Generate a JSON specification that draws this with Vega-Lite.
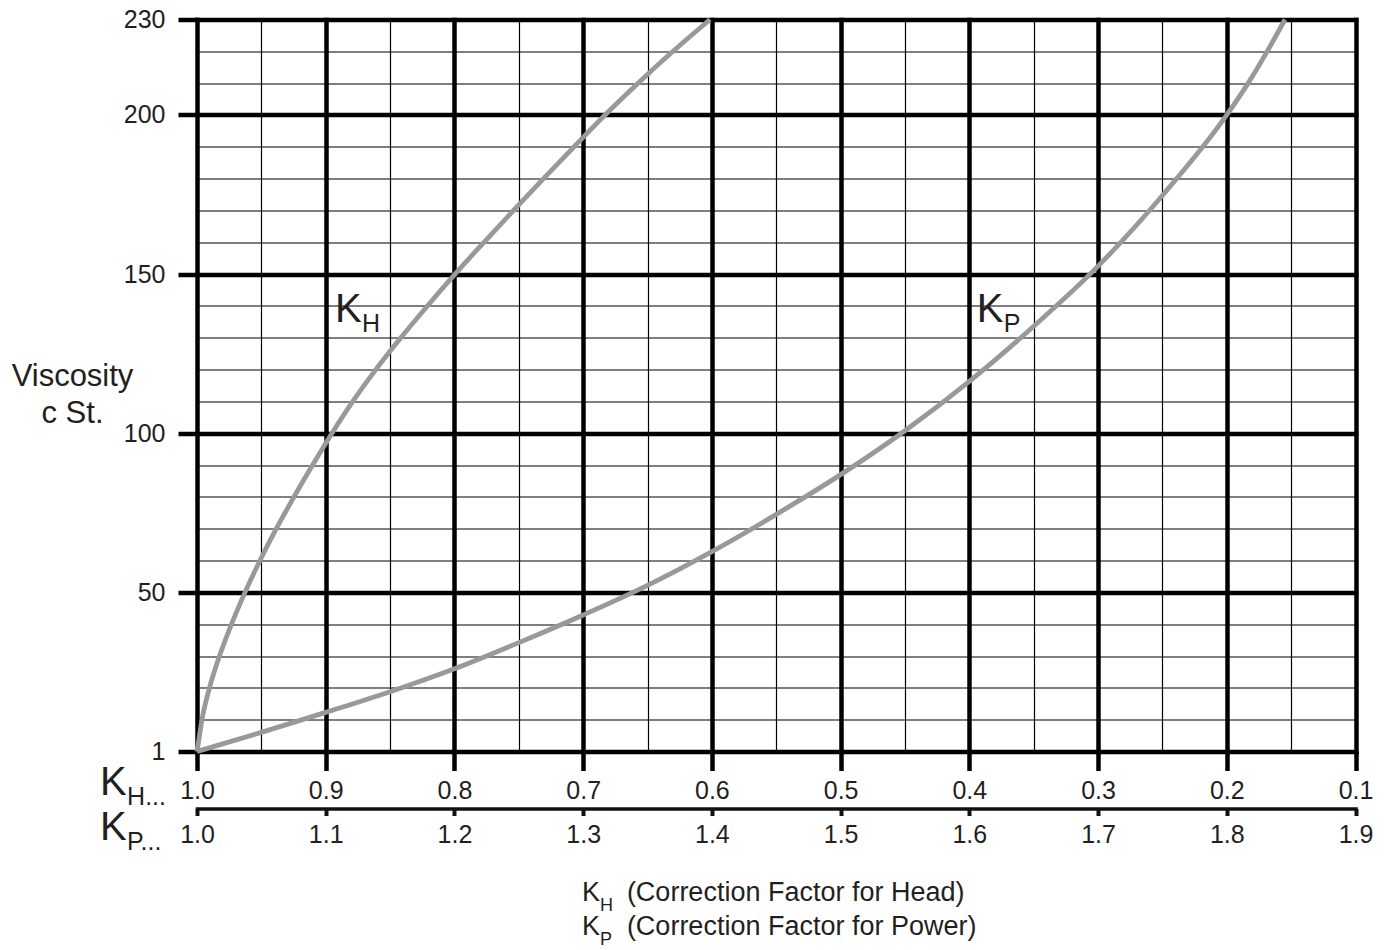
{
  "$schema": "https://vega.github.io/schema/vega-lite/v6.json",
  "width": 1158.5,
  "height": 732,
  "autosize": {"type": "none"},
  "padding": {"left": 197, "top": 19.5, "right": 35.5, "bottom": 198.5},
  "background": "white",
  "config": {"font": "Liberation Sans", "view": {"stroke": null}},
  "datasets": {
    "khCurve": [
      {"kh": 1.0, "v": 0}, {"kh": 0.99883, "v": 3}, {"kh": 0.99612, "v": 10}, {"kh": 0.99029, "v": 20},
      {"kh": 0.98252, "v": 30}, {"kh": 0.9732, "v": 40}, {"kh": 0.96271, "v": 50}, {"kh": 0.95106, "v": 60},
      {"kh": 0.9384, "v": 70}, {"kh": 0.92464, "v": 80}, {"kh": 0.91019, "v": 90}, {"kh": 0.89512, "v": 100},
      {"kh": 0.87896, "v": 110}, {"kh": 0.8611, "v": 120}, {"kh": 0.84167, "v": 130}, {"kh": 0.82101, "v": 140},
      {"kh": 0.79957, "v": 150}, {"kh": 0.77704, "v": 160}, {"kh": 0.75412, "v": 170}, {"kh": 0.73081, "v": 180},
      {"kh": 0.70711, "v": 190}, {"kh": 0.68303, "v": 200}, {"kh": 0.65739, "v": 210}, {"kh": 0.63021, "v": 220},
      {"kh": 0.60146, "v": 230}
    ],
    "kpCurve": [
      {"kp": 1.0, "v": 0}, {"kp": 1.05, "v": 6.0}, {"kp": 1.1, "v": 12.3}, {"kp": 1.15, "v": 18.8},
      {"kp": 1.2, "v": 26}, {"kp": 1.25, "v": 34.2}, {"kp": 1.3, "v": 42.9}, {"kp": 1.35, "v": 52.2},
      {"kp": 1.4, "v": 62.8}, {"kp": 1.45, "v": 74.5}, {"kp": 1.5, "v": 87}, {"kp": 1.55, "v": 100.8},
      {"kp": 1.6, "v": 116.3}, {"kp": 1.65, "v": 133.6}, {"kp": 1.7, "v": 152.5}, {"kp": 1.75, "v": 174.7},
      {"kp": 1.8, "v": 200}, {"kp": 1.8166, "v": 210}, {"kp": 1.8314, "v": 220}, {"kp": 1.8452, "v": 230}
    ],
    "bigLabels": [
      {"kh": 0.8928, "v": 134.9, "main": "K", "sub": "H"},
      {"kh": 0.3943, "v": 134.9, "main": "K", "sub": "P"},
      {"kh": 1.0753, "v": -13.7, "main": "K", "sub": "H..."},
      {"kh": 1.0753, "v": -27.8, "main": "K", "sub": "P..."}
    ],
    "titleLabels": [
      {"kh": 0.701, "v": -47.0, "main": "K", "sub": "H", "rest": "(Correction Factor for Head)"},
      {"kh": 0.701, "v": -57.6, "main": "K", "sub": "P", "rest": "(Correction Factor for Power)"}
    ]
  },
  "encoding": {
    "y": {
      "field": "v",
      "type": "quantitative",
      "scale": {"domain": [0, 230], "nice": false, "zero": false},
      "axis": {
        "values": [0, 10, 20, 30, 40, 50, 60, 70, 80, 90, 100, 110, 120, 130, 140, 150, 160, 170, 180, 190, 200, 210, 220, 230],
        "domain": false,
        "grid": true,
        "gridColor": "#000000",
        "gridCap": "square",
        "gridWidth": {"condition": {"test": "datum.value % 50 == 0 || datum.value == 230", "value": 4.5}, "value": 1.2},
        "tickSize": 19,
        "tickWidth": 4.5,
        "tickColor": "#000000",
        "tickOpacity": {"condition": {"test": "datum.value % 50 == 0 || datum.value == 230", "value": 1}, "value": 0},
        "labelExpr": "datum.value == 0 ? '1' : ((datum.value % 50 == 0 || datum.value == 230) ? datum.label : '')",
        "labelFontSize": 25,
        "labelColor": "#231f20",
        "labelPadding": 13,
        "labelOverlap": false,
        "title": ["Viscosity", "c St."],
        "titleAngle": 0,
        "titleAlign": "center",
        "titleBaseline": "alphabetic",
        "titleX": -125,
        "titleY": 365.5,
        "titleFontSize": 31,
        "titleFontWeight": "normal",
        "titleColor": "#231f20",
        "titleLineHeight": 37
      }
    }
  },
  "layer": [
    {
      "encoding": {
        "x": {
          "field": "kh",
          "type": "quantitative",
          "scale": {"domain": [0.1, 1.0], "reverse": true, "nice": false, "zero": false},
          "axis": {
            "orient": "bottom",
            "values": [1.0, 0.95, 0.9, 0.85, 0.8, 0.75, 0.7, 0.65, 0.6, 0.55, 0.5, 0.45, 0.4, 0.35, 0.3, 0.25, 0.2, 0.15, 0.1],
            "domain": false,
            "grid": true,
            "gridColor": "#000000",
            "gridCap": "square",
            "gridWidth": {"condition": {"test": "round(datum.value * 100) % 10 == 0", "value": 4.5}, "value": 1.2},
            "tickSize": 19,
            "tickWidth": 4.5,
            "tickColor": "#000000",
            "tickOpacity": {"condition": {"test": "round(datum.value * 100) % 10 == 0", "value": 1}, "value": 0},
            "labelExpr": "round(datum.value * 100) % 10 == 0 ? format(datum.value, '.1f') : ''",
            "labelFontSize": 25,
            "labelColor": "#231f20",
            "labelPadding": 8,
            "labelFlush": false,
            "labelOverlap": false,
            "title": null
          }
        }
      },
      "layer": [
        {
          "data": {"name": "khCurve"},
          "mark": {"type": "line", "color": "#999999", "strokeWidth": 4.8, "interpolate": "monotone"},
          "encoding": {"order": {"field": "v", "type": "quantitative"}}
        },
        {
          "data": {"name": "bigLabels"},
          "mark": {"type": "text", "fontSize": 40, "align": "left", "baseline": "alphabetic", "color": "#231f20"},
          "encoding": {"text": {"field": "main"}}
        },
        {
          "data": {"name": "bigLabels"},
          "mark": {"type": "text", "fontSize": 25, "align": "left", "baseline": "alphabetic", "dx": 27, "dy": 10, "color": "#231f20"},
          "encoding": {"text": {"field": "sub"}}
        },
        {
          "data": {"name": "titleLabels"},
          "mark": {"type": "text", "fontSize": 27, "align": "left", "baseline": "alphabetic", "color": "#231f20"},
          "encoding": {"text": {"field": "main"}}
        },
        {
          "data": {"name": "titleLabels"},
          "mark": {"type": "text", "fontSize": 18, "align": "left", "baseline": "alphabetic", "dx": 18, "dy": 10, "color": "#231f20"},
          "encoding": {"text": {"field": "sub"}}
        },
        {
          "data": {"name": "titleLabels"},
          "mark": {"type": "text", "fontSize": 27, "align": "left", "baseline": "alphabetic", "dx": 45, "color": "#231f20"},
          "encoding": {"text": {"field": "rest"}}
        }
      ]
    },
    {
      "data": {"name": "kpCurve"},
      "mark": {"type": "line", "color": "#999999", "strokeWidth": 4.8, "interpolate": "monotone"},
      "encoding": {
        "x": {
          "field": "kp",
          "type": "quantitative",
          "scale": {"domain": [1.0, 1.9], "nice": false, "zero": false},
          "axis": {
            "orient": "bottom",
            "offset": 57,
            "values": [1.0, 1.1, 1.2, 1.3, 1.4, 1.5, 1.6, 1.7, 1.8, 1.9],
            "format": ".1f",
            "grid": false,
            "domain": true,
            "domainColor": "#111111",
            "domainWidth": 3.5,
            "domainCap": "square",
            "tickSize": 7,
            "tickWidth": 4,
            "tickColor": "#111111",
            "labelFontSize": 25,
            "labelColor": "#231f20",
            "labelPadding": 7,
            "labelFlush": false,
            "labelOverlap": false,
            "title": null
          }
        },
        "order": {"field": "v", "type": "quantitative"}
      }
    }
  ],
  "resolve": {"scale": {"x": "independent"}, "axis": {"x": "independent"}}
}
